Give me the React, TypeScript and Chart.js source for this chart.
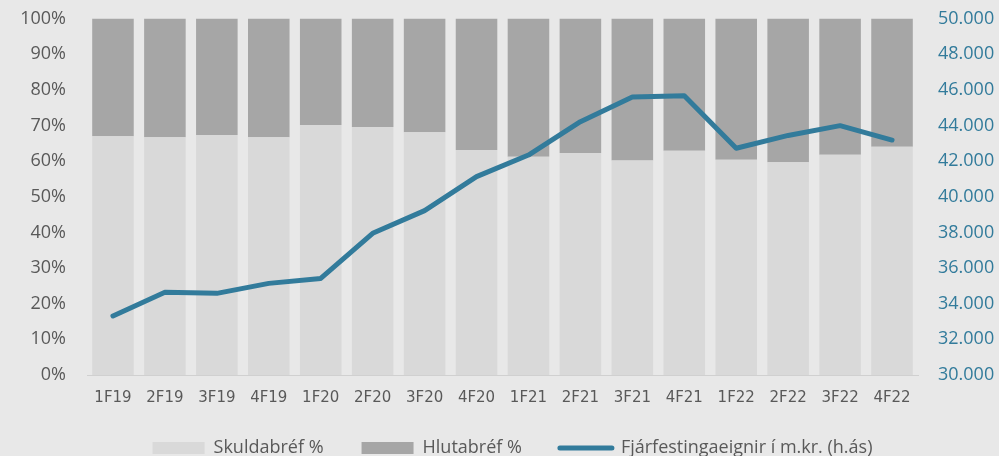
import React, { useEffect, useRef } from "react";
import { Chart, registerables } from "chart.js";

Chart.register(...registerables);

const categories = ["1F19", "2F19", "3F19", "4F19", "1F20", "2F20", "3F20", "4F20", "1F21", "2F21", "3F21", "4F21", "1F22", "2F22", "3F22", "4F22"];
const skuldabref = [67.0, 66.7, 67.3, 66.7, 70.1, 69.6, 68.1, 63.1, 61.2, 62.3, 60.2, 62.9, 60.4, 59.7, 61.8, 64.0];
const hlutabref = [33.0, 33.3, 32.7, 33.3, 29.9, 30.4, 31.9, 36.9, 38.8, 37.7, 39.8, 37.1, 39.6, 40.3, 38.2, 36.0];
const fjarfesting = [33310, 34640, 34580, 35140, 35420, 37950, 39220, 41130, 42340, 44210, 45600, 45670, 42720, 43440, 43990, 43180];
const seriesNames = ["Skuldabréf %", "Hlutabréf %", "Fjárfestingaeignir í m.kr. (h.ás)"];

const BG = "#e8e8e8";
const LIGHT = "#d9d9d9";
const DARK = "#a6a6a6";
const TEAL = "#327b9b";
const GREY_TEXT = "#595959";

const fmt = (v: number) => Math.round(v).toString().replace(/\B(?=(\d{3})+(?!\d))/g, ".");

const bgPlugin = {
  id: "bgFill",
  beforeDraw(chart: any) {
    const { ctx, width, height } = chart;
    ctx.save();
    ctx.fillStyle = BG;
    ctx.fillRect(0, 0, width, height);
    ctx.restore();
  },
};

const legendShift = {
  id: "legendShift",
  afterLayout(chart: any) {
    const l = chart.legend;
    if (!l) return;
    l.left += 13;
    l.right += 13;
    l.top -= 7;
    l.bottom -= 7;
  },
};

export default function App() {
  const ref = useRef<HTMLCanvasElement | null>(null);

  useEffect(() => {
    document.body.style.margin = "0";
    document.body.style.overflow = "hidden";
    document.body.style.background = BG;
    if (!ref.current) return;
    const defaultGen = (Chart.defaults as any).plugins.legend.labels.generateLabels;
    const chart = new Chart(ref.current, {
      type: "bar",
      data: {
        labels: categories,
        datasets: [
          {
            type: "bar",
            label: seriesNames[0],
            data: skuldabref,
            backgroundColor: LIGHT,
            borderWidth: 0,
            yAxisID: "y",
            barPercentage: 0.8,
            categoryPercentage: 1,
            order: 1,
          },
          {
            type: "bar",
            label: seriesNames[1],
            data: hlutabref,
            backgroundColor: DARK,
            borderWidth: 0,
            yAxisID: "y",
            barPercentage: 0.8,
            categoryPercentage: 1,
            order: 2,
          },
          {
            type: "line",
            label: seriesNames[2],
            data: fjarfesting,
            borderColor: TEAL,
            backgroundColor: TEAL,
            borderWidth: 5,
            borderCapStyle: "round",
            borderJoinStyle: "round",
            pointRadius: 0,
            tension: 0,
            yAxisID: "y1",
            order: 0,
          } as any,
        ],
      },
      options: {
        responsive: false,
        animation: false,
        layout: { padding: { top: 18.5, left: 0, right: 0, bottom: 0 } },
        plugins: {
          tooltip: { enabled: false },
          legend: {
            position: "bottom",
            labels: {
              font: { family: "Open Sans", size: 18 },
              color: GREY_TEXT,
              usePointStyle: true,
              pointStyleWidth: 52,
              boxHeight: 12,
              padding: 38,
              sort: (a: any, b: any) => a.datasetIndex - b.datasetIndex,
              generateLabels: (chart: any) => {
                const items = defaultGen(chart);
                return items.map((it: any) => ({
                  ...it,
                  pointStyle: it.datasetIndex === 2 ? "line" : "rect",
                  lineWidth: it.datasetIndex === 2 ? 5 : 0,
                  strokeStyle: it.datasetIndex === 2 ? TEAL : it.fillStyle,
                  lineCap: it.datasetIndex === 2 ? "round" : "butt",
                }));
              },
            },
          },
        },
        scales: {
          x: {
            stacked: true,
            grid: { display: false, drawTicks: false },
            border: { display: true, color: "#d0d0d0", width: 1 },
            ticks: {
              font: { family: "DejaVu Sans", size: 15 },
              color: GREY_TEXT,
              padding: 14,
              maxRotation: 0,
              autoSkip: false,
            },
            afterFit: (s: any) => {
              s.height = 33;
            },
          },
          y: {
            stacked: true,
            position: "left",
            min: 0,
            max: 100,
            grid: { display: false, drawTicks: false },
            border: { display: false },
            ticks: {
              stepSize: 10,
              font: { family: "Open Sans", size: 18 },
              color: GREY_TEXT,
              padding: 21,
              callback: (v: any) => v + "%",
            },
            afterFit: (s: any) => {
              s.width = 87;
              s.paddingTop = 0;
              s.paddingBottom = 0;
            },
          },
          y1: {
            position: "right",
            min: 30000,
            max: 50000,
            grid: { display: false, drawTicks: false },
            border: { display: false },
            ticks: {
              stepSize: 2000,
              font: { family: "Open Sans", size: 18 },
              color: TEAL,
              padding: 20,
              callback: (v: any) => fmt(Number(v)),
            },
            afterFit: (s: any) => {
              s.width = 81;
              s.paddingTop = 0;
              s.paddingBottom = 0;
            },
          },
        },
      },
      plugins: [bgPlugin, legendShift],
    });
    return () => chart.destroy();
  }, []);

  return (
    <div style={{ width: 999, height: 474, overflow: "hidden" }}>
      <canvas ref={ref} width={999} height={474} style={{ display: "block" }} />
    </div>
  );
}
